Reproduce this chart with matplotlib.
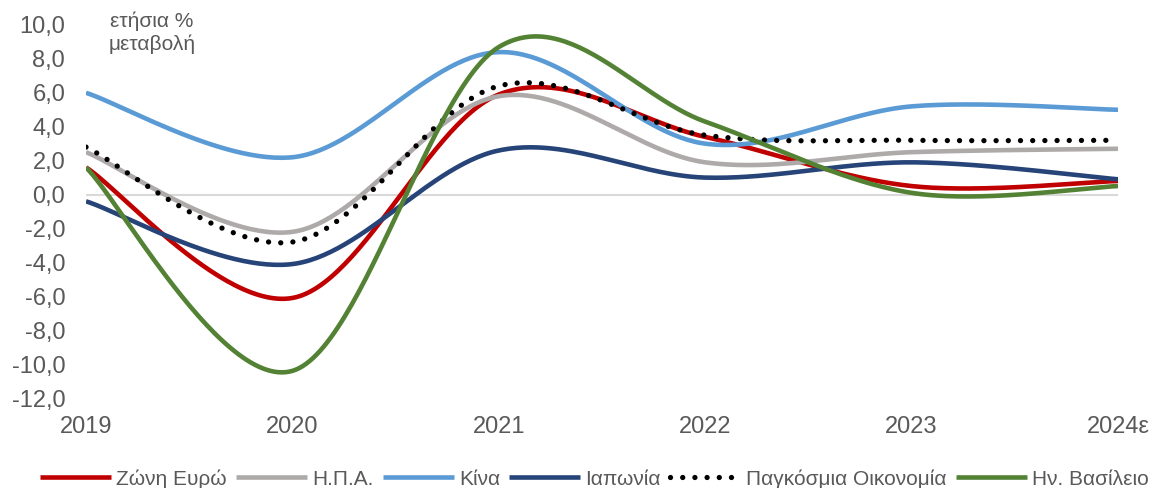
import numpy as np
import matplotlib
matplotlib.use("Agg")
import matplotlib.pyplot as plt

years = ["2019", "2020", "2021", "2022", "2023", "2024ε"]
series_names = ["Ζώνη Ευρώ", "Η.Π.Α.", "Κίνα", "Ιαπωνία", "Παγκόσμια Οικονομία", "Ην. Βασίλειο"]
euro = [1.6, -6.1, 5.9, 3.4, 0.5, 0.8]
usa = [2.5, -2.2, 5.8, 1.9, 2.5, 2.7]
china = [6.0, 2.2, 8.4, 3.0, 5.2, 5.0]
japan = [-0.4, -4.1, 2.6, 1.0, 1.9, 0.9]
world = [2.8, -2.8, 6.4, 3.5, 3.2, 3.2]
uk = [1.6, -10.4, 8.7, 4.3, 0.1, 0.5]

colors = ["#C00000", "#AEAAAA", "#5B9BD5", "#264478", "#000000", "#548235"]
values = [euro, usa, china, japan, world, uk]


def smooth(xs, ys, n=60):
    xs = np.asarray(xs, float)
    ys = np.asarray(ys, float)
    P = np.column_stack([xs, ys])
    out = []
    m = len(P)
    for i in range(m - 1):
        p0 = P[i - 1] if i > 0 else P[i]
        p1 = P[i]
        p2 = P[i + 1]
        p3 = P[i + 2] if i + 2 < m else P[i + 1]
        c1 = p1 + (p2 - p0) / 6.0
        c2 = p2 - (p3 - p1) / 6.0
        t = np.linspace(0, 1, n)[:, None]
        seg = ((1 - t) ** 3) * p1 + 3 * ((1 - t) ** 2) * t * c1 + 3 * (1 - t) * t ** 2 * c2 + t ** 3 * p2
        if i > 0:
            seg = seg[1:]
        out.append(seg)
    out = np.vstack(out)
    return out[:, 0], out[:, 1]


plt.rcParams['font.family'] = ['Liberation Sans', 'DejaVu Sans']
fig = plt.figure(figsize=(11.67, 4.88), dpi=100)
ax = fig.add_axes([86 / 1167, 1 - 398 / 488, (1118 - 86) / 1167, (398 - 25) / 488])

x = np.arange(len(years))
ax.axhline(0, color="#D9D9D9", lw=1.5, zorder=1)

handles = []
for name, vals, c in zip(series_names, values, colors):
    sx, sy = smooth(x, vals)
    if name == "Παγκόσμια Οικονομία":
        h, = ax.plot(sx, sy, color=c, lw=3.8, linestyle=(0, (0.01, 2.3)),
                     dash_capstyle='round', label=name, zorder=3)
    else:
        h, = ax.plot(sx, sy, color=c, lw=3.3, solid_capstyle='butt', label=name, zorder=2)
    handles.append(h)
handles[-1].set_zorder(4)

ax.set_xlim(0, len(years) - 1)
ax.set_ylim(-12, 10)
ax.set_yticks(np.arange(-12, 10.1, 2))
ax.set_yticklabels([f"{v:.1f}".replace(".", ",") for v in np.arange(-12, 10.1, 2)])
ax.set_xticks(x)
ax.set_xticklabels(years)
ax.tick_params(axis='both', length=0, labelsize=17, colors="#595959")
ax.tick_params(axis='y', pad=15)
ax.tick_params(axis='x', pad=13)
for s in ax.spines.values():
    s.set_visible(False)

fig.text(152 / 1167, 1 - 33 / 488, "ετήσια %\nμεταβολή", ha='center', va='center',
         fontsize=15, color="#595959", linespacing=1.25)

leg = fig.legend(handles=handles, loc='center left', bbox_to_anchor=(40 / 1167, 1 - 479 / 488),
                 ncol=6, frameon=False, fontsize=15.0, handlelength=3.4, handletextpad=0.25,
                 columnspacing=0.45, borderpad=0, borderaxespad=0)
for t in leg.get_texts():
    t.set_color("#595959")

fig.savefig("out.png", dpi=100)
